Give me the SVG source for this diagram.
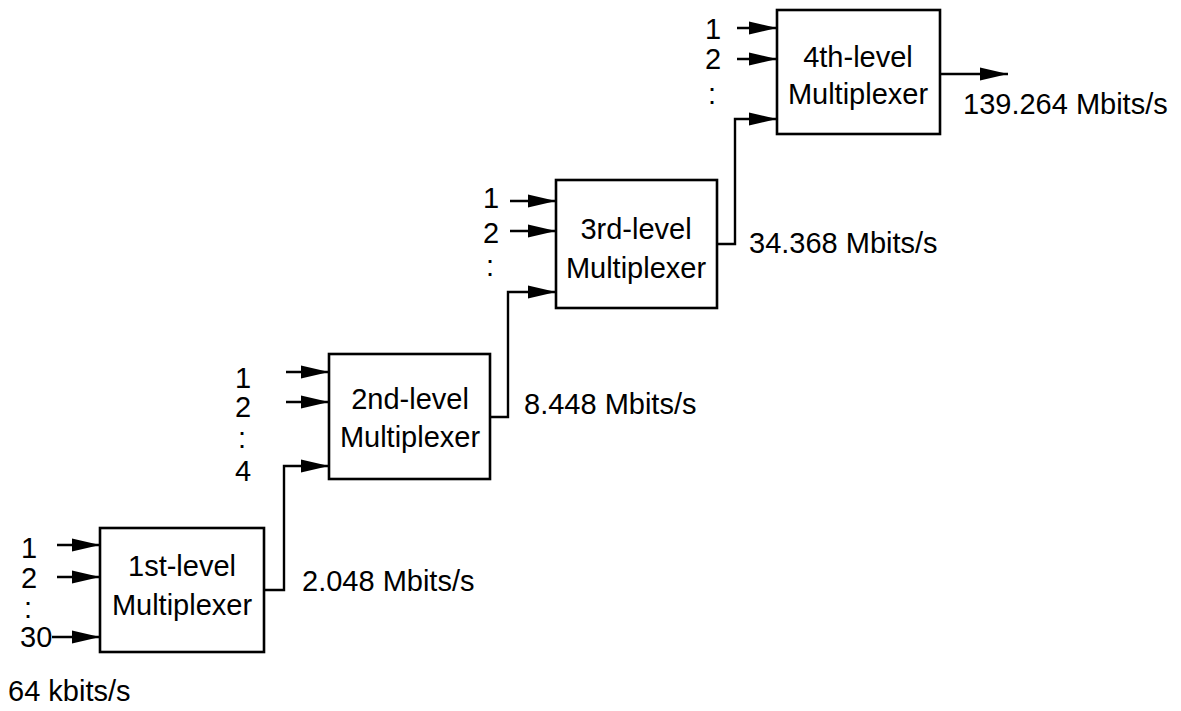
<svg xmlns="http://www.w3.org/2000/svg" width="1181" height="711" viewBox="0 0 1181 711">
<style>
text{font-family:"Liberation Sans",Arial,sans-serif;font-size:29px;fill:#000}
.c{text-anchor:middle}
.box{fill:#fff;stroke:#000;stroke-width:2.6}
.ln{fill:none;stroke:#000;stroke-width:2.4}
</style>
<defs>
<marker id="ah" markerUnits="userSpaceOnUse" markerWidth="30" markerHeight="16" refX="28" refY="7" orient="auto">
<path d="M0,0.5 L28,7 L0,13.5 Z" fill="#000"/>
</marker>
</defs>
<rect width="1181" height="711" fill="#fff"/>
<g id="connectors">
<path class="ln" d="M57,545 H100" marker-end="url(#ah)"/>
<path class="ln" d="M57,577 H100" marker-end="url(#ah)"/>
<path class="ln" d="M52,637 H100" marker-end="url(#ah)"/>
<path class="ln" d="M264,590 H284 V466 H329" marker-end="url(#ah)"/>
<path class="ln" d="M286,372 H329" marker-end="url(#ah)"/>
<path class="ln" d="M286,402 H329" marker-end="url(#ah)"/>
<path class="ln" d="M490,417 H508 V292 H556" marker-end="url(#ah)"/>
<path class="ln" d="M510,201 H556" marker-end="url(#ah)"/>
<path class="ln" d="M510,231 H556" marker-end="url(#ah)"/>
<path class="ln" d="M717,244 H735 V119 H777" marker-end="url(#ah)"/>
<path class="ln" d="M737,28 H777" marker-end="url(#ah)"/>
<path class="ln" d="M737,59 H777" marker-end="url(#ah)"/>
<path class="ln" d="M940,74 H1008" marker-end="url(#ah)"/>
</g>
<g id="mux1">
<rect class="box" x="100" y="528" width="164" height="124"/>
<text class="c" x="182" y="576">1st-level</text>
<text class="c" x="182" y="615">Multiplexer</text>
</g>
<g id="mux2">
<rect class="box" x="329" y="354" width="161" height="125"/>
<text class="c" x="410" y="409">2nd-level</text>
<text class="c" x="410" y="447">Multiplexer</text>
</g>
<g id="mux3">
<rect class="box" x="556" y="180" width="161" height="128"/>
<text class="c" x="636" y="239">3rd-level</text>
<text class="c" x="636" y="278">Multiplexer</text>
</g>
<g id="mux4">
<rect class="box" x="777" y="10" width="163" height="124"/>
<text class="c" x="858" y="67">4th-level</text>
<text class="c" x="858" y="104">Multiplexer</text>
</g>
<g id="labels">
<text x="21" y="558">1</text>
<text x="21" y="588">2</text>
<text x="24" y="618">:</text>
<text x="20" y="647">30</text>
<text x="8" y="701">64 kbits/s</text>
<text x="302" y="591">2.048 Mbits/s</text>
<text x="235" y="388">1</text>
<text x="235" y="417">2</text>
<text x="238" y="448">:</text>
<text x="235" y="481">4</text>
<text x="524" y="414">8.448 Mbits/s</text>
<text x="483" y="208">1</text>
<text x="483" y="243">2</text>
<text x="486" y="276">:</text>
<text x="749" y="253">34.368 Mbits/s</text>
<text x="705" y="39">1</text>
<text x="705" y="69">2</text>
<text x="708" y="104">:</text>
<text x="963" y="114">139.264 Mbits/s</text>
</g>
</svg>
